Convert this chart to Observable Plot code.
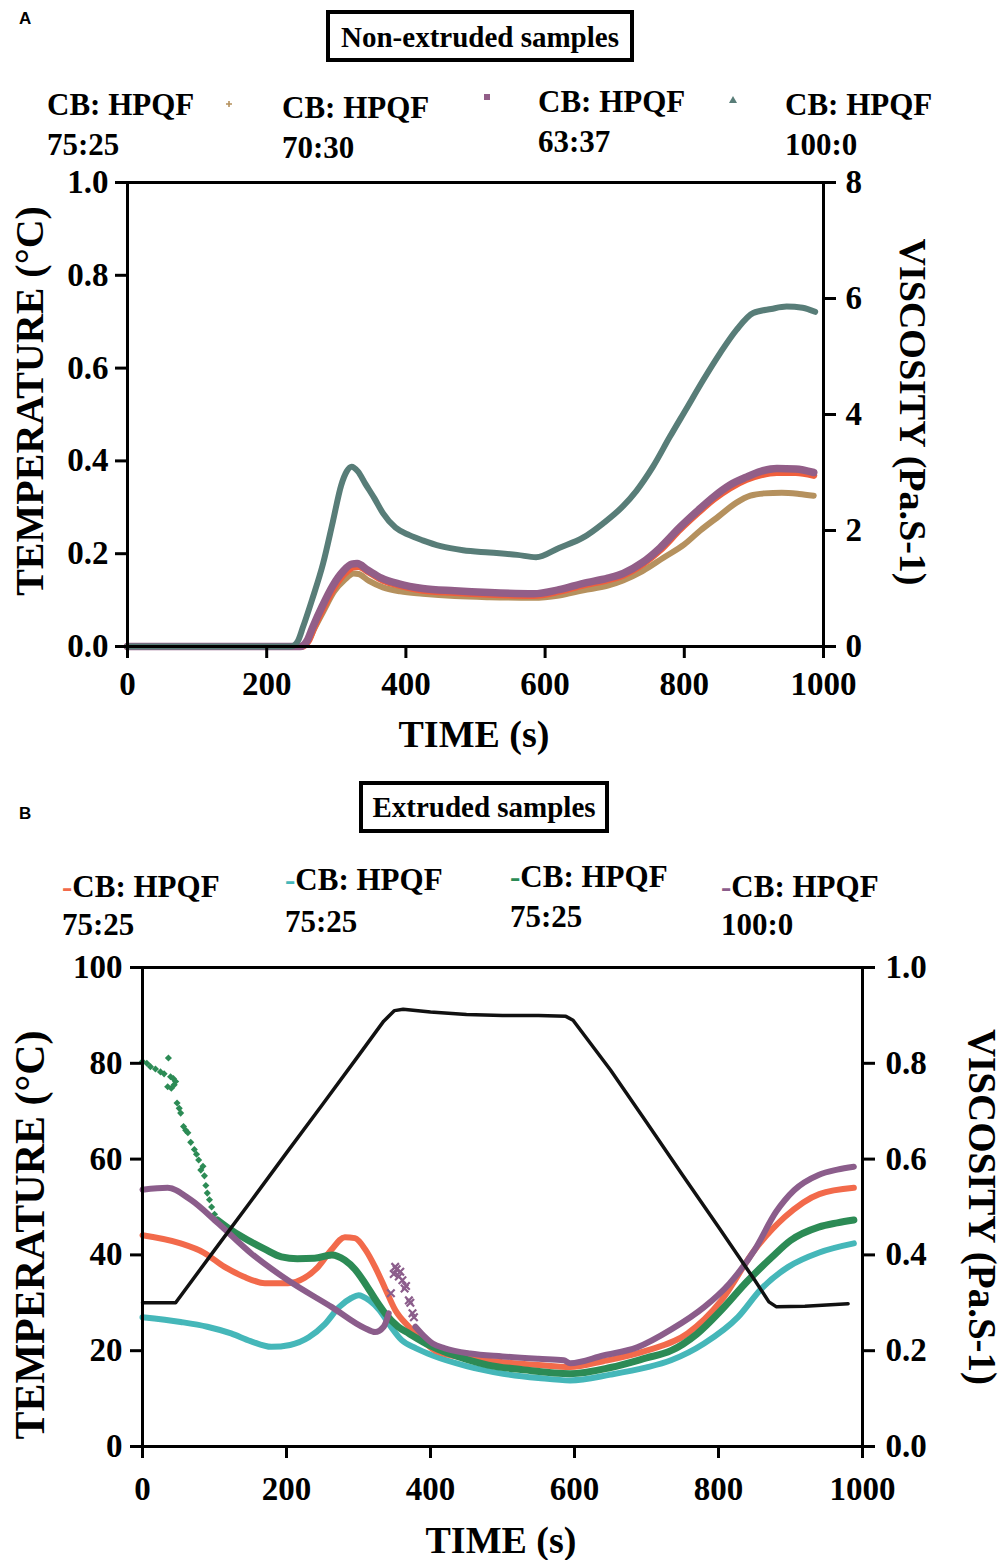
<!DOCTYPE html>
<html><head><meta charset="utf-8">
<script src="https://cdn.jsdelivr.net/npm/d3@7"></script>
<script src="https://cdn.jsdelivr.net/npm/@observablehq/plot@0.6"></script>
<style>
body{margin:0;background:#fff}
#root{position:relative;width:1005px;height:1560px;overflow:hidden;background:#fff}
.abs{position:absolute;left:0}
</style>
</head><body>
<div id="root">
<div id="chartA" class="abs" style="top:170px"></div>
<div id="chartB" class="abs" style="top:950px"></div>
<svg id="overlay" class="abs" style="top:0;pointer-events:none" width="1005" height="1560"></svg>
</div>
<script>
// ---------- DATA ----------
const titleA = "Non-extruded samples";
const titleB = "Extruded samples";
const legendPrefix = "CB: HPQF";
const ratiosA = ["75:25", "70:30", "63:37", "100:0"];
const ratiosB = ["75:25", "75:25", "75:25", "100:0"];
const xTitle = "TIME (s)";
const tempTitle = "TEMPERATURE (°C)";
const viscTitle = "VISCOSITY (Pa.S-1)";
const xTicks = [0, 200, 400, 600, 800, 1000];
const tempTicksA = [0, 0.2, 0.4, 0.6, 0.8, 1.0];
const viscTicksA = [0, 2, 4, 6, 8];
const tempTicksB = [0, 20, 40, 60, 80, 100];
const viscTicksB = [0, 0.2, 0.4, 0.6, 0.8, 1.0];

// Panel A (non-extruded): [time s, viscosity Pa.s]
const A_75_25 = [[0,0],[250,0],[260,0.1],[268,0.3],[282,0.62],[297,0.95],[312,1.15],[325,1.26],[332,1.25],[347,1.13],[367,1.02],[392,0.95],[424,0.91],[470,0.87],[520,0.85],[583,0.84],[620,0.88],[655,0.97],[690,1.05],[712,1.14],[740,1.3],[770,1.53],[800,1.76],[823,2.0],[850,2.25],[875,2.48],[895,2.6],[915,2.64],[940,2.65],[965,2.63],[986,2.6]];
const A_70_30 = [[0,0],[250,0],[260,0.1],[268,0.33],[282,0.68],[297,1.02],[312,1.26],[324,1.37],[332,1.38],[347,1.28],[367,1.14],[392,1.05],[424,0.97],[470,0.93],[520,0.9],[583,0.88],[620,0.95],[655,1.06],[690,1.15],[712,1.23],[740,1.42],[765,1.66],[794,2.02],[820,2.31],[842,2.54],[865,2.73],[889,2.88],[910,2.96],[933,3.0],[960,3.0],[986,2.95]];
const A_63_37 = [[0,0],[248,0],[258,0.1],[266,0.33],[280,0.7],[295,1.05],[310,1.3],[322,1.42],[330,1.43],[345,1.32],[365,1.18],[390,1.08],[424,1.0],[470,0.96],[520,0.93],[583,0.91],[620,0.98],[655,1.09],[690,1.18],[712,1.26],[740,1.45],[765,1.7],[794,2.06],[820,2.35],[842,2.58],[865,2.78],[889,2.92],[910,3.02],[933,3.07],[960,3.06],[986,3.0]];
const A_100_0 = [[0,0],[235,0],[245,0.1],[252,0.33],[265,0.8],[281,1.43],[295,2.15],[307,2.78],[315,3.02],[322,3.1],[331,3.02],[342,2.8],[355,2.55],[367,2.3],[385,2.05],[405,1.92],[424,1.83],[450,1.73],[482,1.66],[520,1.62],[560,1.58],[587,1.54],[620,1.7],[655,1.88],[683,2.12],[712,2.42],[731,2.68],[755,3.1],[779,3.61],[803,4.1],[827,4.59],[851,5.05],[875,5.46],[899,5.75],[925,5.82],[947,5.86],[970,5.84],[988,5.77]];

// Panel B (extruded): temperature [time s, °C]
const B_temp = [[0,30],[46,30],[100,41],[150,51.1],[200,61.3],[250,71.4],[300,81.6],[335,88.8],[350,91],[362,91.3],[400,90.7],[450,90.2],[500,90],[550,90],[588,89.8],[598,89],[650,78.6],[700,67.7],[750,56.7],[800,45.8],[850,34.8],[870,30.2],[880,29.2],[920,29.3],[980,29.8]];
// viscosity [time s, Pa.s]
const B_orange = [[0,0.441],[53,0.424],[85,0.405],[114,0.375],[140,0.355],[170,0.341],[202,0.341],[225,0.352],[244,0.375],[262,0.41],[281,0.437],[295,0.435],[310,0.41],[323,0.375],[337,0.33],[351,0.285],[370,0.25],[389,0.222],[407,0.2],[450,0.185],[500,0.176],[550,0.17],[594,0.166],[640,0.178],[700,0.2],[757,0.236],[804,0.305],[850,0.41],[892,0.479],[940,0.527],[988,0.54]];
const B_cyan = [[0,0.27],[53,0.26],[90,0.25],[123,0.236],[150,0.22],[179,0.208],[205,0.212],[231,0.228],[253,0.255],[273,0.291],[290,0.31],[300,0.316],[315,0.305],[329,0.285],[345,0.25],[360,0.222],[380,0.205],[403,0.19],[450,0.168],[501,0.152],[550,0.143],[594,0.138],[650,0.15],[700,0.165],[734,0.18],[780,0.215],[827,0.27],[860,0.33],[897,0.375],[940,0.405],[988,0.424]];
const B_green = [[104,0.473],[125,0.45],[146,0.431],[170,0.412],[193,0.396],[215,0.392],[239,0.393],[263,0.4],[281,0.389],[295,0.37],[309,0.341],[323,0.308],[337,0.278],[355,0.25],[370,0.236],[400,0.21],[426,0.194],[480,0.17],[530,0.16],[594,0.152],[650,0.165],[700,0.185],[734,0.2],[770,0.235],[804,0.285],[840,0.345],[874,0.395],[900,0.43],[939,0.458],[965,0.467],[988,0.473]];
const B_green_scatter = [[0,0.804],[6,0.8],[11,0.793],[18,0.788],[25,0.782],[30,0.778],[36,0.811],[39,0.772],[43,0.768],[46,0.762],[35,0.751],[40,0.748],[44,0.755],[48,0.717],[51,0.706],[53,0.696],[57,0.668],[60,0.66],[63,0.655],[67,0.635],[72,0.62],[75,0.61],[78,0.598],[81,0.577],[84,0.585],[86,0.565],[88,0.545],[90,0.529],[93,0.515],[96,0.5],[100,0.485]];
const B_purple1 = [[0,0.536],[35,0.54],[67,0.515],[105,0.466],[151,0.403],[202,0.347],[263,0.291],[309,0.247],[323,0.239],[335,0.25],[342,0.278]];
const B_purple_scatter = [[345,0.32],[349,0.36],[351,0.375],[353,0.37],[356,0.355],[358,0.365],[361,0.347],[364,0.33],[366,0.335],[370,0.305],[372,0.3],[375,0.278],[377,0.27]];
const B_purple2 = [[379,0.25],[390,0.232],[403,0.215],[420,0.205],[455,0.194],[500,0.188],[550,0.183],[585,0.18],[594,0.174],[640,0.19],[687,0.207],[735,0.245],[780,0.291],[815,0.34],[850,0.41],[880,0.49],[905,0.535],[939,0.567],[965,0.578],[988,0.584]];

// ---------- STYLE ----------
const SERIF = "'Liberation Serif', 'Times New Roman', serif";
const C = {tan:"#b5915e", orange:"#f05f3c", purpleA:"#925e88", teal:"#587d78",
           oB:"#f26a4b", cyan:"#45b7b9", green:"#2c8b55", purpleB:"#8b5d8b", black:"#111"};

// ---------- OVERLAY (titles / legends / axis titles) ----------
const ns = "http://www.w3.org/2000/svg";
const ov = document.getElementById("overlay");
function el(tag, attrs, parent = ov) {
  const e = document.createElementNS(ns, tag);
  for (const k in attrs) e.setAttribute(k, attrs[k]);
  parent.appendChild(e);
  return e;
}
function text(x, y, s, size, extra = {}) {
  const t = el("text", Object.assign({x, y, "font-family": SERIF, "font-weight": "bold", "font-size": size, fill: "#000"}, extra));
  t.textContent = s;
  return t;
}
function rtext(cx, cy, angle, s, size) {
  return text(0, 0, s, size, {transform: `translate(${cx},${cy}) rotate(${angle})`, "text-anchor": "middle", dy: "0.35em"});
}
// panel letters
text(19, 24, "A", 17, {"font-family": "'Liberation Sans', Arial, sans-serif"});
text(19, 819, "B", 17, {"font-family": "'Liberation Sans', Arial, sans-serif"});
// title boxes
el("rect", {x: 328, y: 12, width: 304, height: 48, fill: "none", stroke: "#000", "stroke-width": 4});
text(480, 47, titleA, 29, {"text-anchor": "middle"});
el("rect", {x: 361, y: 783, width: 246, height: 48, fill: "none", stroke: "#000", "stroke-width": 4});
text(484, 817, titleB, 29, {"text-anchor": "middle"});
// legend A
const posA = [[47, 115], [282, 118], [538, 112], [785, 115]];
ratiosA.forEach((r, i) => {
  const [x, y] = posA[i];
  text(x, y, legendPrefix, 31);
  text(x, y + 40, r, 31);
});
el("path", {d: "M226,104h6M229,101v6", stroke: C.tan, "stroke-width": 1.6});
el("rect", {x: 484, y: 94, width: 6, height: 6, fill: C.purpleA});
el("path", {d: "M733,96L737,103L729,103Z", fill: C.teal});
// legend B
const posB = [[62, 897, 935], [285, 890, 932], [510, 887, 927], [721, 897, 935]];
const colB = [C.oB, C.cyan, C.green, C.purpleB];
ratiosB.forEach((r, i) => {
  const [x, y1, y2] = posB[i];
  const t = text(x, y1, "", 31);
  const d = document.createElementNS(ns, "tspan");
  d.setAttribute("fill", colB[i]); d.textContent = "-"; t.appendChild(d);
  const s = document.createElementNS(ns, "tspan");
  s.textContent = legendPrefix; t.appendChild(s);
  text(x, y2, r, 31);
});
// axis titles
text(474, 747, xTitle, 38, {"text-anchor": "middle"});
text(501, 1553, xTitle, 38, {"text-anchor": "middle"});
rtext(29, 401, -90, tempTitle, 40);
rtext(913, 412, 90, viscTitle, 38);
rtext(29, 1235, -90, tempTitle, 42);
rtext(983, 1207, 90, viscTitle, 39);

// ---------- CHARTS ----------
const baseStyle = {fontFamily: SERIF, fontWeight: "bold", fontSize: "33px", color: "#000", background: "transparent", overflow: "visible"};

const kA = 1 / 8; // viscosity 0-8 -> left scale 0-1
const lineA = (data, stroke, w) => Plot.line(data, {x: d => d[0], y: d => d[1] * kA, stroke, strokeWidth: w, curve: "monotone-x"});

const chartA = Plot.plot({
  width: 1005, height: 600,
  marginTop: 12, marginBottom: 124, marginLeft: 127, marginRight: 182,
  x: {domain: [0, 1000]},
  y: {domain: [0, 1]},
  style: baseStyle,
  marks: [
    lineA(A_75_25, C.tan, 6),
    lineA(A_70_30, C.orange, 7),
    lineA(A_63_37, C.purpleA, 7.5),
    lineA(A_100_0, C.teal, 6),
    Plot.frame({stroke: "#000", strokeWidth: 3}),
    Plot.axisX({ticks: xTicks, tickSize: 12, tickPadding: 13, strokeWidth: 3, label: null, tickFormat: d => String(d)}),
    Plot.axisY({anchor: "left", ticks: tempTicksA, tickSize: 12, tickPadding: 7, strokeWidth: 3, label: null, tickFormat: d => d.toFixed(1)}),
    Plot.axisY({anchor: "right", ticks: viscTicksA.map(v => v * kA), tickSize: 12, tickPadding: 10, strokeWidth: 3, label: null, tickFormat: d => String(Math.round(d / kA))})
  ]
});
document.getElementById("chartA").appendChild(chartA);

const kB = 100; // viscosity 0-1 -> left scale 0-100
const lineB = (data, stroke, w) => Plot.line(data, {x: d => d[0], y: d => d[1] * kB, stroke, strokeWidth: w, curve: "monotone-x"});

const chartB = Plot.plot({
  width: 1005, height: 610,
  marginTop: 17, marginBottom: 114, marginLeft: 142, marginRight: 143,
  x: {domain: [0, 1000]},
  y: {domain: [0, 100]},
  style: baseStyle,
  marks: [
    lineB(B_cyan, C.cyan, 6),
    lineB(B_orange, C.oB, 6),
    Plot.dot(B_green_scatter, {x: d => d[0], y: d => d[1] * kB, symbol: "diamond2", r: 3.2, fill: C.green}),
    lineB(B_green, C.green, 7),
    Plot.dot(B_purple_scatter, {x: d => d[0], y: d => d[1] * kB, symbol: "times", r: 3.5, stroke: C.purpleB, strokeWidth: 2.2}),
    lineB(B_purple1, C.purpleB, 6),
    lineB(B_purple2, C.purpleB, 6),
    Plot.line(B_temp, {x: d => d[0], y: d => d[1], stroke: C.black, strokeWidth: 3.5}),
    Plot.frame({stroke: "#000", strokeWidth: 3}),
    Plot.axisX({ticks: xTicks, tickSize: 12, tickPadding: 18, strokeWidth: 3, label: null, tickFormat: d => String(d)}),
    Plot.axisY({anchor: "left", ticks: tempTicksB, tickSize: 12, tickPadding: 8, strokeWidth: 3, label: null, tickFormat: d => String(d)}),
    Plot.axisY({anchor: "right", ticks: viscTicksB.map(v => v * kB), tickSize: 12, tickPadding: 11, strokeWidth: 3, label: null, tickFormat: d => (d / kB).toFixed(1)})
  ]
});
document.getElementById("chartB").appendChild(chartB);
</script>
</body></html>
